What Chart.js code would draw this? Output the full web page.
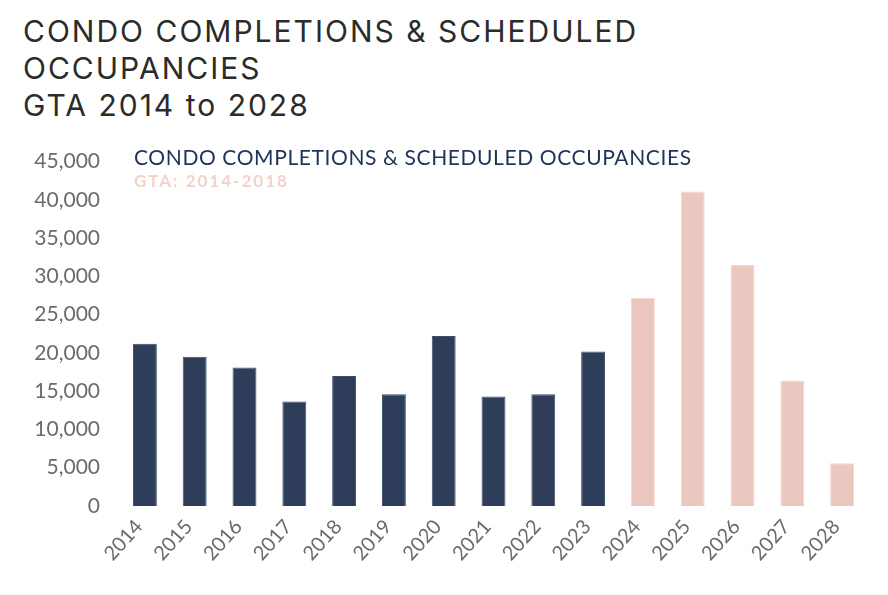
<!DOCTYPE html>
<html>
<head>
<meta charset="utf-8">
<script src="https://cdn.jsdelivr.net/npm/chart.js@4.4.1/dist/chart.umd.min.js"></script>
<style>
  html, body { margin: 0; padding: 0; background: #ffffff; }
  body { width: 888px; height: 595px; position: relative; overflow: hidden; }
  #title { position: absolute; left: 23px; top: 13px; font-family: Inter, "Liberation Sans", sans-serif; font-size: 30px; line-height: 37px; color: #2b2b2b; letter-spacing: 2px; }
  #sub1 { position: absolute; left: 134px; top: 144px; font-family: Lato, sans-serif; font-size: 21px; color: #1e3358; letter-spacing: 0.6px; z-index: 2; }
  #sub2 { position: absolute; left: 134px; top: 170px; font-family: Lato, sans-serif; font-weight: bold; font-size: 17px; color: #f2d3cb; letter-spacing: 2px; z-index: 2; }
  #wrap { position: absolute; left: 0; top: 129px; width: 888px; height: 466px; }
</style>
</head>
<body>
<div id="title">CONDO COMPLETIONS &amp; SCHEDULED<br>OCCUPANCIES<br>GTA 2014 to 2028</div>
<div id="sub1">CONDO COMPLETIONS &amp; SCHEDULED OCCUPANCIES</div>
<div id="sub2">GTA: 2014-2018</div>
<div id="wrap"><canvas id="c"></canvas></div>
<script>
const years = ["2014","2015","2016","2017","2018","2019","2020","2021","2022","2023","2024","2025","2026","2027","2028"];
const completions = [21200, 19500, 18100, 13650, 17000, 14600, 22200, 14300, 14600, 20200, null, null, null, null, null];
const scheduled = [null, null, null, null, null, null, null, null, null, null, 27200, 41100, 31500, 16400, 5600];
const yTicks = [0, 5000, 10000, 15000, 20000, 25000, 30000, 35000, 40000, 45000];

new Chart(document.getElementById('c'), {
  type: 'bar',
  data: {
    labels: years,
    datasets: [
      { label: 'Completions', data: completions, backgroundColor: '#2e3e5a', borderColor: '#3e4e6a', borderWidth: 1, categoryPercentage: 1, barPercentage: 0.48 },
      { label: 'Scheduled Occupancies', data: scheduled, backgroundColor: '#ebc7bf', borderColor: '#f3d6cf', borderWidth: 1, categoryPercentage: 1, barPercentage: 0.48 }
    ]
  },
  options: {
    responsive: true,
    maintainAspectRatio: false,
    animation: false,
    layout: { padding: { top: 5, right: 21, left: 0, bottom: 27 } },
    plugins: { legend: { display: false }, tooltip: { enabled: false }, title: { display: false } },
    scales: {
      x: {
        stacked: true,
        afterFit: (axis) => { axis.height = 62; },
        grid: { display: false, drawTicks: false },
        border: { display: false },
        ticks: { color: '#6b6b6b', font: { family: 'Lato', size: 20 }, maxRotation: 48, minRotation: 48, padding: 9, labelOffset: -6 }
      },
      y: {
        stacked: true,
        min: 0, max: 45000,
        afterFit: (axis) => { axis.width = 120; },
        afterBuildTicks: (axis) => { axis.ticks = yTicks.map(v => ({ value: v })); },
        grid: { display: false, drawTicks: false },
        border: { display: false },
        ticks: { color: '#6b6b6b', font: { family: 'Lato', size: 21 }, padding: 20,
          callback: (v) => v.toLocaleString('en-US') }
      }
    }
  }
});
</script>
</body>
</html>
